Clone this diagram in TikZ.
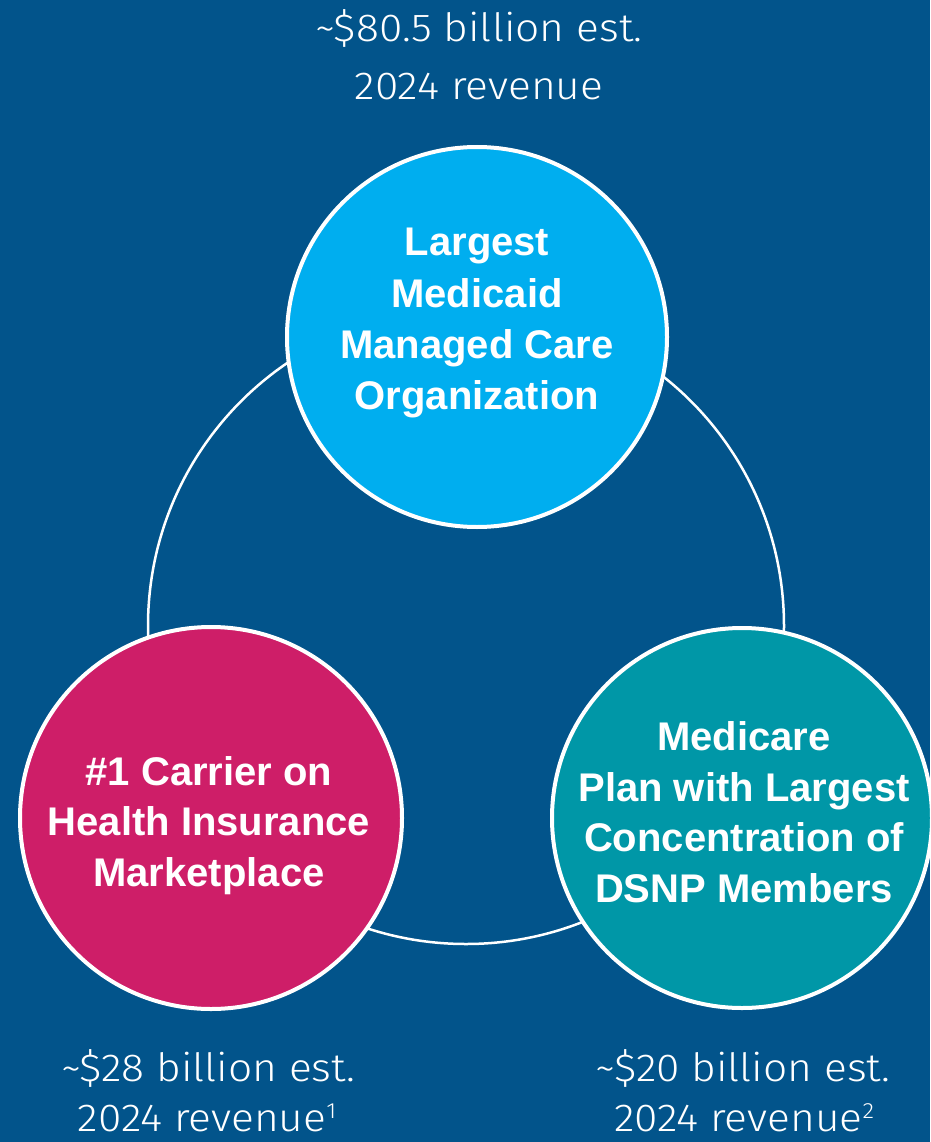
\documentclass[tikz,border=0pt]{standalone}
\usepackage{fontspec}
\setmainfont{Liberation Sans}
\newfontfamily\lightface{Fira Sans Light}[FakeStretch=1.09]

\definecolor{bgblue}{RGB}{2,84,139}
\definecolor{medicaidblue}{RGB}{0,174,239}
\definecolor{marketmagenta}{RGB}{206,30,104}
\definecolor{medicareteal}{RGB}{0,151,167}

% small raised footnote mark
\newcommand{\fnmark}[1]{{\fontsize{22}{22}\selectfont\raisebox{13pt}{#1}}}

\begin{document}
\begin{tikzpicture}[x=1pt,y=-1pt,
  bubble/.style={circle, draw=white, line width=4pt, minimum size=380pt, inner sep=0pt},
  headline/.style={text=white, font=\bfseries\fontsize{40}{40}\selectfont, anchor=base, inner sep=0pt},
  revenue/.style={text=white, font=\lightface\fontsize{39}{39}\selectfont, anchor=base, inner sep=0pt}]

% backdrop
\fill[bgblue] (0,0) rectangle (930,1142);
\useasboundingbox (0,0) rectangle (930,1142);

% ring linking the three segments
\node[circle, draw=white, line width=2.5pt, minimum size=636pt, inner sep=0pt] (ring) at (466,626) {};

% segment bubbles
\node[bubble, fill=medicaidblue] (medicaid) at (477,337) {};
\node[bubble, fill=marketmagenta, minimum size=382pt] (market) at (211,818) {};
\node[bubble, fill=medicareteal] (medicare) at (742,818) {};

% Medicaid
\node[headline] (m1) at (477,255) {Largest};
\node[headline] (m2) at (477,307) {Medicaid};
\node[headline] (m3) at (477,358) {Managed Care};
\node[headline] (m4) at (477,409) {Organization};

% Marketplace
\node[headline] (k1) at (209,785) {\#1 Carrier on};
\node[headline] (k2) at (209,835) {Health Insurance};
\node[headline] (k3) at (209,886) {Marketplace};

% Medicare
\node[headline] (c1) at (744,750) {Medicare};
\node[headline] (c2) at (744,801) {Plan with Largest};
\node[headline] (c3) at (744,851) {Concentration of};
\node[headline] (c4) at (744,902) {DSNP Members};

% revenue captions
\node[revenue] (r1a) at (479,42) {\textasciitilde\$80.5 billion est.};
\node[revenue] (r1b) at (479,100) {2024 revenue};
\node[revenue] (r2a) at (208,1081) {\textasciitilde\$28 billion est.};
\node[revenue] (r2b) at (207,1131) {2024 revenue\fnmark{1}};
\node[revenue] (r3a) at (743,1081) {\textasciitilde\$20 billion est.};
\node[revenue] (r3b) at (744,1131) {2024 revenue\fnmark{2}};
\end{tikzpicture}
\end{document}
